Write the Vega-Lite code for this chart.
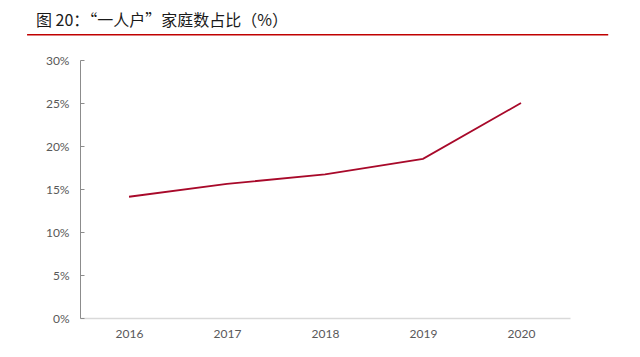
{
  "$schema": "https://vega.github.io/schema/vega-lite/v6.json",
  "width": 490,
  "height": 258,
  "autosize": {"type": "none"},
  "padding": {"left": 80, "top": 60, "right": 70, "bottom": 39},
  "background": "white",
  "config": {"view": {"stroke": null}},
  "title": {
    "text": "图 20：“一人户”家庭数占比（%）",
    "anchor": "start",
    "frame": "group",
    "dx": -44,
    "offset": 5,
    "font": "Noto Sans CJK SC",
    "fontSize": 16,
    "fontWeight": "normal",
    "color": "#1a1a1a"
  },
  "layer": [
    {
      "data": {"values": [{"year": 2014.96, "year_end": 2020.89, "level": 32.93}]},
      "mark": {"type": "rule", "color": "#c00000", "strokeWidth": 1.6, "clip": false},
      "encoding": {
        "x": {"field": "year", "type": "quantitative"},
        "x2": {"field": "year_end"},
        "y": {"field": "level", "type": "quantitative"}
      }
    },
    {
      "data": {"values": [
        {"year": 2016, "share": 14.1},
        {"year": 2017, "share": 15.6},
        {"year": 2018, "share": 16.7},
        {"year": 2019, "share": 18.5},
        {"year": 2020, "share": 25.0}
      ]},
      "mark": {"type": "line", "color": "#a8092a", "strokeWidth": 1.8},
      "encoding": {
        "x": {
          "field": "year",
          "type": "quantitative",
          "scale": {"domain": [2015.5, 2020.5], "nice": false, "zero": false},
          "axis": {
            "title": null,
            "values": [2016, 2017, 2018, 2019, 2020],
            "format": "d",
            "grid": false,
            "ticks": false,
            "domainColor": "#d9d9d9",
            "domainWidth": 1.5,
            "labelPadding": 10,
            "labelFont": "Lato",
            "labelFontSize": 12,
            "labelColor": "#595959"
          }
        },
        "y": {
          "field": "share",
          "type": "quantitative",
          "scale": {"domain": [0, 30], "nice": false},
          "axis": {
            "title": null,
            "values": [0, 5, 10, 15, 20, 25, 30],
            "labelExpr": "datum.value + '%'",
            "grid": false,
            "domainColor": "#8c8c8c",
            "domainWidth": 1,
            "tickColor": "#8c8c8c",
            "tickSize": -4,
            "labelPadding": 15,
            "labelFont": "Lato",
            "labelFontSize": 12,
            "labelColor": "#595959"
          }
        }
      }
    }
  ]
}
